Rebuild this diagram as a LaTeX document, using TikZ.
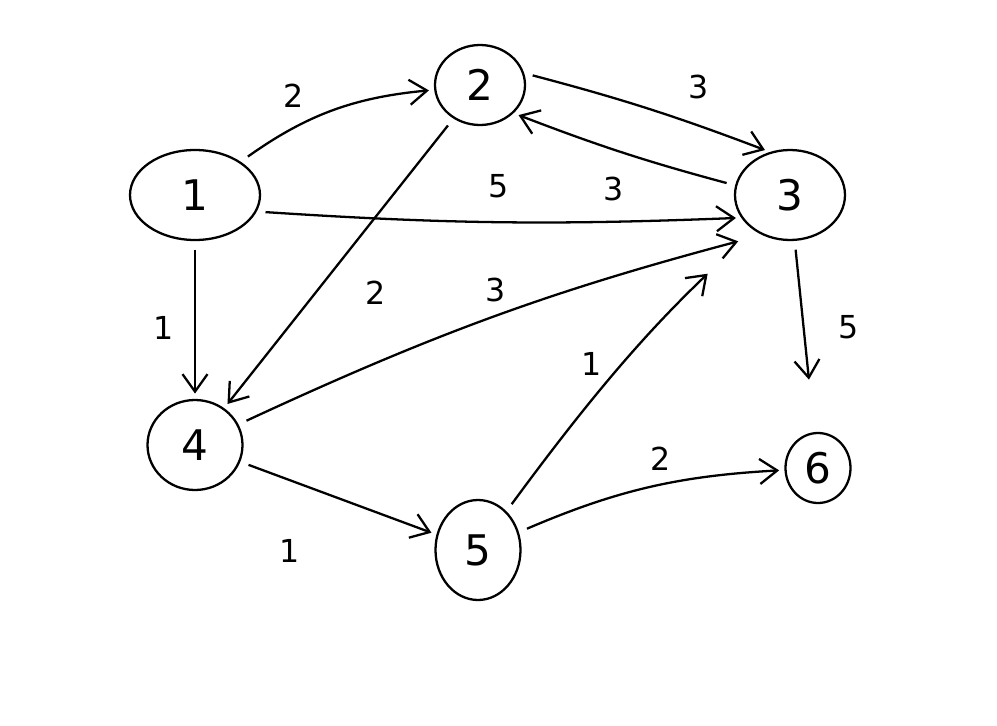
\documentclass[tikz,border=0pt]{standalone}
\usepackage{fontspec}
\setmainfont{DejaVu Sans}
\usetikzlibrary{shapes.geometric,arrows.meta}

\tikzset{
  vert/.style={draw, ellipse, line width=1.3pt, inner sep=0pt,
               font=\fontsize{24}{24}\selectfont},
  wlabel/.style={font=\fontsize{18}{18}\selectfont},
  link/.style={-{Straight Barb[length=3.5mm,width=5mm]}, line width=1.3pt,
               shorten >=3pt, shorten <=5pt}
}

\begin{document}
\begin{tikzpicture}
  \useasboundingbox (0,0) rectangle (19.94,-14.52);
  % the six vertices
  \node[vert, minimum width=2.6cm, minimum height=1.8cm] (v1) at (3.9,-3.9) {1};
  \node[vert, minimum width=1.8cm, minimum height=1.6cm] (v2) at (9.6,-1.7) {2};
  \node[vert, minimum width=2.2cm, minimum height=1.8cm] (v3) at (15.8,-3.9) {3};
  \node[vert, minimum width=1.9cm, minimum height=1.8cm] (v4) at (3.9,-8.9) {4};
  \node[vert, minimum width=1.7cm, minimum height=2.0cm] (v5) at (9.56,-11.0) {5};
  \node[vert, minimum width=1.3cm, minimum height=1.4cm] (v6) at (16.36,-9.36) {6};

  % weighted edges
  \draw[link] (v1) to[bend left=15] node[wlabel, pos=.4, above left=2pt] (w12) {2} (v2);
  \draw[link] (v2.15) to[bend left=3] node[wlabel, pos=.6, above right=6pt] (w23) {3} (v3.115);
  \draw[link] (v3.170) to[bend left=3] node[wlabel, pos=.55, below=12pt] (w32) {3} (v2.320);
  \draw[link] (v1.345) to[bend right=3] node[wlabel, pos=.5, above=10pt] (w13) {5} (v3.205);
  \draw[link] (v2) -- node[wlabel, pos=.6, right=24pt] (w24) {2} (v4);
  \draw[link] (v1) -- node[wlabel, pos=.55, left=8pt] (w14) {1} (v4);
  \draw[link, shorten >=14pt] (v4) to[bend left=5] node[wlabel, pos=.5, above=4pt] (w43) {3} (v3.235);
  \draw[link] (v4) -- node[wlabel, pos=.25, below=30pt] (w45) {1} (v5);
  \draw[link, shorten >=36pt] (v5) to[bend left=5] node[wlabel, pos=.5, left=8pt] (w53) {1} (v3);
  \draw[link] (v5) to[bend left=10] node[wlabel, pos=.55, above=4pt] (w56) {2} (v6);
  \draw[link, shorten >=30pt] (v3) -- node[wlabel, pos=.45, right=16pt] (w36) {5} (v6);
\end{tikzpicture}
\end{document}
